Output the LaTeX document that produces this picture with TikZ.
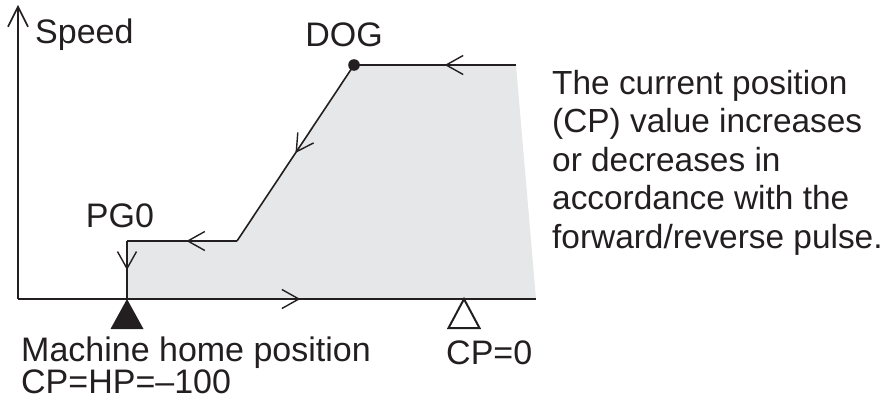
\documentclass[tikz,border=0pt]{standalone}
\usepackage{fontspec}
\setmainfont{Liberation Sans}
\usepackage{tikz}
\usetikzlibrary{arrows.meta,decorations.markings}
\definecolor{areagray}{RGB}{230,231,232}
\definecolor{inkblack}{RGB}{35,31,32}
\setlength{\lineskiplimit}{-100pt}

\begin{document}
\begin{tikzpicture}[
  x=1pt,y=1pt,
  lbl/.style={inner sep=0pt,text=inkblack,font=\fontsize{34}{38.5}\selectfont},
  lbl2/.style={lbl,align=left,font=\fontsize{34}{31.5}\selectfont},
  curve/.style={draw=inkblack,line width=1.6pt},
  barb/.tip={Straight Barb[length=17pt,width=19pt]},
  midarr/.style={postaction={decorate},decoration={markings,mark=at position #1 with {\arrow[inkblack,line width=1.4pt]{barb}}}}
]
\useasboundingbox (0,0) rectangle (887,400);
% key points of the homing profile
\coordinate (o) at (18,101);
\coordinate (ytop) at (18,395);
\coordinate (xend) at (536,101);
\coordinate (home) at (127,101);
\coordinate (pg) at (127,159);
\coordinate (kink) at (237,159);
\coordinate (dog) at (354,335);
\coordinate (topend) at (516,335);
\coordinate (cpzero) at (464,101);
% shaded area under the profile
\fill[areagray] (home) -- (pg) -- (kink) -- (dog) -- (topend) -- (xend) -- cycle;
% axes
\draw[curve,-{Straight Barb[length=20pt,width=20pt]}] (o) -- (ytop);
\draw[curve,midarr=0.545] (o) -- (xend);
% profile
\draw[curve,midarr=0.44] (topend) -- (dog);
\draw[curve,midarr=0.5] (dog) -- (kink);
\draw[curve,midarr=0.46] (kink) -- (pg);
\draw[curve,midarr=0.5] (pg) -- (home);
\fill[inkblack] (dog) circle (5.8);
% position markers
\fill[inkblack] (home) -- ++(-16.5,-30) -- ++(33,0) -- cycle;
\draw[inkblack,line width=2pt,line join=miter] (cpzero) -- ++(-15.5,-29) -- ++(31,0) -- cycle;
% labels
\node[lbl,anchor=base west] (speed) at (35,356) {Speed};
\node[lbl,anchor=base] (doglbl) at (344,353) {DOG};
\node[lbl,anchor=base] (pglbl) at (120,173) {PG0};
\node[lbl2,anchor=base west] (homelbl) at (21,7) {Machine home position\\CP=HP=–100};
\node[lbl,anchor=base west] (cplbl) at (446,36) {CP=0};
\node[lbl,anchor=base west,align=left,font=\fontsize{33.4}{38.5}\selectfont] (note) at (552,152)
  {The current position\\(CP) value increases\\or decreases in\\accordance with the\\forward/reverse pulse.};
\end{tikzpicture}
\end{document}
